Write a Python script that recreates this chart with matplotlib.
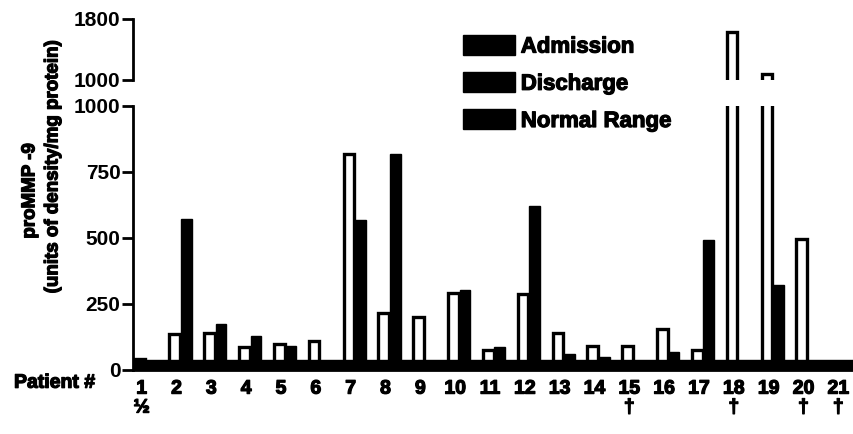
import numpy as np
import matplotlib
matplotlib.use("Agg")
import matplotlib.pyplot as plt
from matplotlib.patches import Patch
import matplotlib.patheffects as pe

plt.rcParams['font.family'] = ['Liberation Sans', 'DejaVu Sans']
plt.rcParams['font.weight'] = 'bold'

patients = list(range(1, 22))
patient_labels = ['1\n½', '2', '3', '4', '5', '6', '7', '8', '9', '10', '11', '12', '13', '14',
                  '15\n†', '16', '17', '18\n†', '19', '20\n†', '21\n†']
admission = [40, 135, 140, 87, 96, 109, 817, 216, 200, 289, 74, 285, 137, 90,
             90, 153, 74, 1625, 1080, 495, 15]
discharge = [20, 571, 173, 128, 89, 20, 568, 815, 20, 302, 87, 618, 58, 49,
             np.nan, 68, 492, np.nan, 320, np.nan, np.nan]
normal_range = (0, 36)

# thicker strokes so the text looks like the heavy scanned print
heavy = [pe.withStroke(linewidth=0.9, foreground='black')]

x = np.array(patients, dtype=float)
w = 0.31

fig = plt.figure(figsize=(8.54, 4.34), dpi=100)
ax = fig.add_axes([0.1557, 0.1486, 0.8443, 0.6079])
ax_top = fig.add_axes([0.1557, 0.8157, 0.8443, 0.1406])

for a in (ax, ax_top):
    a.bar(x, admission, width=w, color='white', edgecolor='black', linewidth=2.4, zorder=2)
    a.bar(x + w + 0.02, discharge, width=w, color='black', edgecolor='black', linewidth=1, zorder=2)
    a.set_xlim(0.8, 21.5)
    for s in ('top', 'right'):
        a.spines[s].set_visible(False)
    a.spines['left'].set_linewidth(2)
    a.tick_params(axis='y', length=8, width=2, pad=1, labelsize=15)

ax.axhspan(normal_range[0], normal_range[1], color='black', zorder=3)
ax.set_ylim(0, 1000)
ax.set_yticks([0, 250, 500, 750, 1000])
ax.spines['bottom'].set_linewidth(2)
ax.set_xticks(x + 0.05)
ax.set_xticklabels(patient_labels, fontsize=14, va='top', linespacing=1.15)
ax.tick_params(axis='x', length=0, pad=8)

ax_top.set_ylim(1000, 1800)
ax_top.set_yticks([1000, 1800])
ax_top.spines['bottom'].set_visible(False)
ax_top.set_xticks([])

fig.text(0.035, 0.56, 'proMMP -9', rotation=90, ha='center', va='center', fontsize=13.5)
fig.text(0.062, 0.615, '(units of density/mg protein)', rotation=90, ha='center', va='center',
         fontsize=13.5)
fig.text(0.064, 0.117, 'Patient #', ha='center', va='center', fontsize=14)

handles = [Patch(facecolor='black', edgecolor='black'),
           Patch(facecolor='black', edgecolor='black'),
           Patch(facecolor='black', edgecolor='black')]
fig.legend(handles, ['Admission', 'Discharge', 'Normal Range'], loc='upper left',
           bbox_to_anchor=(463 / 854, 1 - 35 / 434), frameon=False, fontsize=16,
           handlelength=2.35, handleheight=1.0, handletextpad=0.25, labelspacing=0.66,
           borderpad=0, borderaxespad=0)

for t in fig.findobj(matplotlib.text.Text):
    if t.get_text():
        t.set_path_effects(heavy)

fig.savefig('out.png', dpi=100)
